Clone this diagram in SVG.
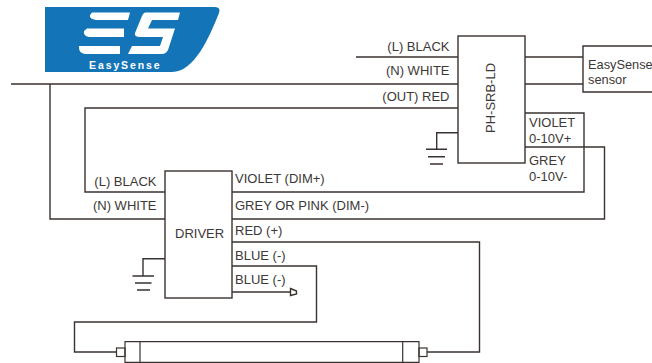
<svg xmlns="http://www.w3.org/2000/svg" width="652" height="363" viewBox="0 0 652 363">
<style>
.l{fill:none;stroke:#3a3230;stroke-width:1.4}
.b{fill:#fff;stroke:#3a3230;stroke-width:1.4}
.t{fill:none;stroke:#3a3230;stroke-width:1.2}
text{font-family:"Liberation Sans",Arial,sans-serif;font-size:13px;fill:#3c3836}
.e{text-anchor:end}
</style>
<rect width="652" height="363" fill="#fff"/>
<g id="logo">
<path d="M45 7H215Q221 7 219 13C209 38 194 72 172 72H45Z" fill="#1374b8"/>
<path d="M92 12.500H130L128 20H96Q89 19 90 15ZM87 28.500H124V37H89Q83 36 84 31ZM79 46H120V54H85Q79 53 79 48Z" fill="#fff"/>
<path d="M145 12.500H180L178 20H152L148 28.500H175L168 50Q166 54 162 54H128L132 46H160L163 37H140Q134 37 135 33L142 16Q143 13 145 12.500Z" fill="#fff"/>
<text x="89" y="68.500" style="font-size:10.500px;font-weight:bold;letter-spacing:1.900px;fill:#fff">EasySense</text>
</g>
<g id="connectors">
<path class="l" d="M356 57H458M11 84H458M525 57H583M525 84H583"/>
<path class="l" d="M50 84V219H165"/>
<path class="l" d="M458 108H85V192H165"/>
<path class="l" d="M525 113H584V192H232"/>
<path class="l" d="M525 147H604.500V219H232"/>
<path class="l" d="M232 242H479.500V352H427"/>
<path class="l" d="M232 266H316.500V322H74.500V352H116"/>
<path class="l" d="M232 292H290"/>
<path class="l" d="M290.500 288.500L296.500 291V294L290.500 295.500Z"/>
<path class="l" d="M458 132.700H436.700V149.300M426 149.300H447M428 156.700H445M430 164H443"/>
<path class="l" d="M165 258.700H143V276M132.500 276H154M135 283H151.500M137 290H150"/>
</g>
<g id="ph-srb-ld">
<rect class="b" x="458" y="36" width="67" height="127"/>
<text transform="translate(495 133) rotate(-90)">PH-SRB-LD</text>
</g>
<g id="sensor">
<path class="l" d="M652 46H583V92H652"/>
<text x="588" y="69" style="font-size:12.800px">EasySense</text>
<text x="588" y="84" style="font-size:12.800px">sensor</text>
</g>
<g id="driver">
<rect class="b" x="165" y="171" width="67" height="127"/>
<text x="175" y="238">DRIVER</text>
</g>
<g id="lamp">
<path class="t" d="M125 341.700H419V362.300H125ZM140 341.700V362.300M402.700 341.700V362.300"/>
<rect class="t" x="116.500" y="348" width="8.500" height="8.500"/>
<rect class="t" x="419" y="348" width="8" height="8.500"/>
</g>
<g id="labels">
<text class="e" x="449.500" y="51">(L) BLACK</text>
<text class="e" x="449.500" y="75">(N) WHITE</text>
<text class="e" x="449.500" y="101">(OUT) RED</text>
<text x="529" y="127">VIOLET</text>
<text x="529" y="142.500">0-10V+</text>
<text x="529" y="165">GREY</text>
<text x="529" y="180.500">0-10V-</text>
<text class="e" x="156.500" y="186">(L) BLACK</text>
<text class="e" x="156.500" y="210">(N) WHITE</text>
<text x="235" y="183">VIOLET (DIM+)</text>
<text x="235" y="210">GREY OR PINK (DIM-)</text>
<text x="235" y="235">RED (+)</text>
<text x="235" y="260">BLUE (-)</text>
<text x="235" y="284">BLUE (-)</text>
</g>
</svg>
